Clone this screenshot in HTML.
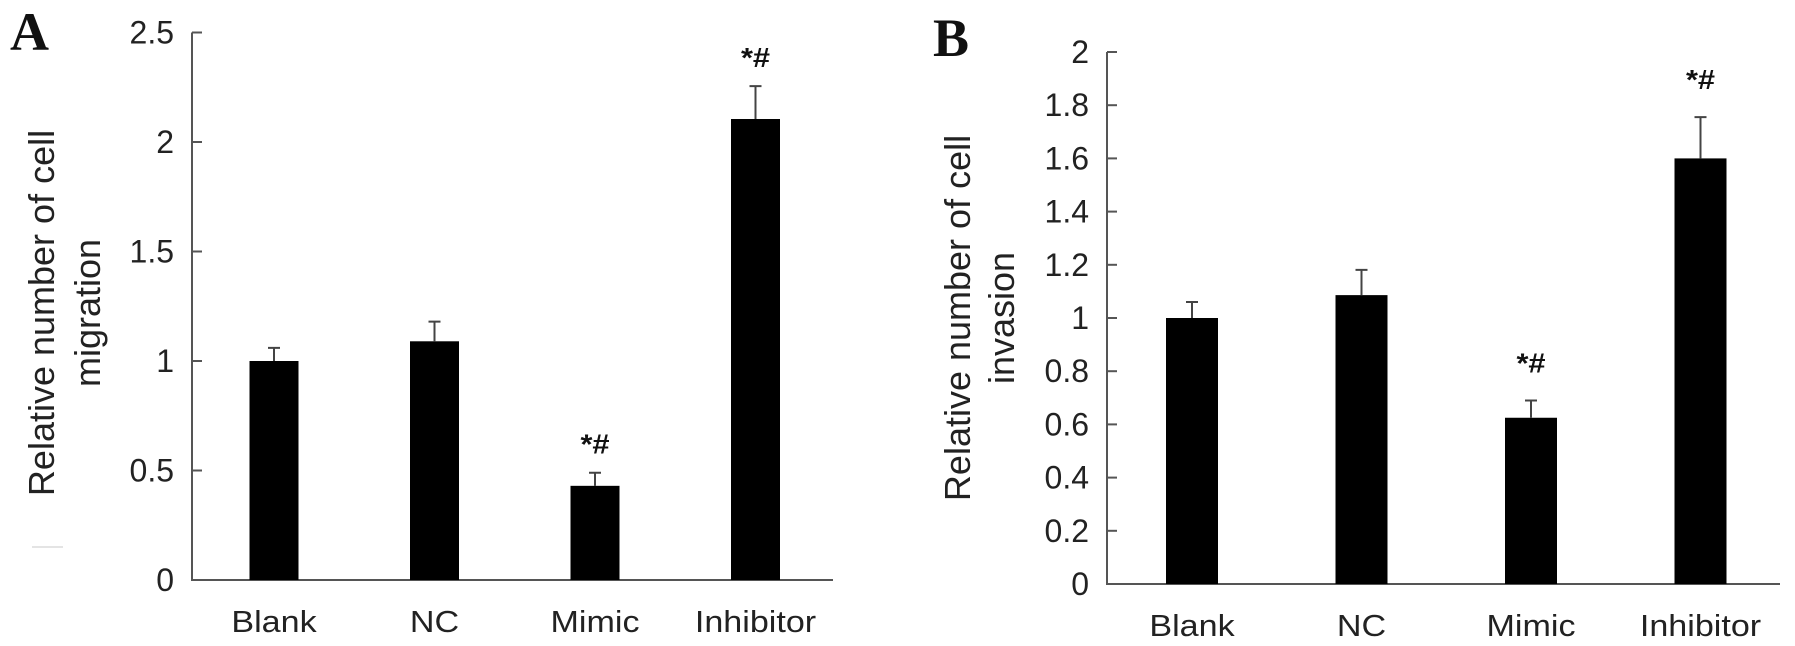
<!DOCTYPE html>
<html><head><meta charset="utf-8"><style>
html,body{margin:0;padding:0;background:#fff;}
svg{display:block;font-family:"Liberation Sans",Arial,sans-serif;}
</style></head><body>
<svg id="chart" width="1795" height="646" viewBox="0 0 1795 646"></svg>
<script>
const categories = ["Blank","NC","Mimic","Inhibitor"];
const migrationValues = [1.0, 1.09, 0.43, 2.105];
const migrationErrors = [0.06, 0.09, 0.06, 0.15];
const migrationTicks = ["0","0.5","1","1.5","2","2.5"];
const invasionValues = [1.0, 1.086, 0.625, 1.6];
const invasionErrors = [0.06, 0.095, 0.065, 0.155];
const invasionTicks = ["0","0.2","0.4","0.6","0.8","1","1.2","1.4","1.6","1.8","2"];
const migrationMarks = ["", "", "*#", "*#"];
const invasionMarks = ["", "", "*#", "*#"];

const NS = "http://www.w3.org/2000/svg";
const svg = document.getElementById("chart");
function mk(tag, attrs, parent, text){
  const e = document.createElementNS(NS, tag);
  for (const k in attrs) e.setAttribute(k, attrs[k]);
  if (text !== undefined) e.textContent = text;
  (parent || svg).appendChild(e);
  return e;
}

function panel(cfg){
  const g = mk("g", {});
  
  
  const y = v => cfg.y0 - (v / cfg.max) * (cfg.y0 - cfg.yTop);
  const x = i => cfg.c0 + i * cfg.step;
  const L = mk("text", {x: cfg.letterX, y: cfg.letterY, "font-family": "Liberation Serif, serif", "font-weight": "bold", "font-size": 54, fill: "#111"}, g, cfg.letter);
  
  
  const t1 = mk("text", {transform: `translate(${cfg.titleX1},${cfg.titleY}) rotate(-90)`, "text-anchor": "middle", "font-size": 36, fill: "#222"}, g, "Relative number of cell");
  
  
  const t2 = mk("text", {transform: `translate(${cfg.titleX2},${cfg.titleY}) rotate(-90)`, "text-anchor": "middle", "font-size": 36, fill: "#222"}, g, cfg.title2);
  
  
  const ya = mk("line", {x1: cfg.ax, x2: cfg.ax, y1: cfg.yTop, y2: cfg.y0 + 1, stroke: "#555", "stroke-width": 2}, g);
  
  
  const xa = mk("line", {x1: cfg.ax, x2: cfg.axEnd, y1: cfg.y0, y2: cfg.y0, stroke: "#555", "stroke-width": 2}, g);
  
  
  cfg.ticks.forEach(lab => {
    const v = parseFloat(lab);
    const yy = y(v);
    if (v > 0) {
      const tk = mk("line", {x1: cfg.ax, x2: cfg.ax + 10, y1: yy, y2: yy, stroke: "#555", "stroke-width": 2}, g);
      
      
    }
    const tl = mk("text", {x: cfg.ax - 18, y: yy + 11, "text-anchor": "end", "font-size": 32, fill: "#222"}, g, lab);
    
    
  });
  categories.forEach((c, i) => {
    const cx = x(i);
    const top = y(cfg.values[i]);
    const b = mk("rect", {x: cx - cfg.bw / 2, y: top, width: cfg.bw, height: cfg.y0 - top, fill: "#000"}, g);
    
    
    const et = y(cfg.values[i] + cfg.errors[i]);
    const eb = mk("path", {d: `M${cx},${top} V${et} M${cx - 6},${et} H${cx + 6}`, stroke: "#444", "stroke-width": 2, fill: "none"}, g);
    
    
    const xl = mk("text", {transform: `translate(${cx},${cfg.y0 + 52}) scale(1.1,1)`, "text-anchor": "middle", "font-size": 31, fill: "#222"}, g, c);
    
    
    if (cfg.marks[i]) {
      const m = mk("text", {transform: `translate(${cx},${et - cfg.markGap}) scale(1.1,1)`, "text-anchor": "middle", "font-size": 28, "font-weight": "bold", fill: "#111"}, g, cfg.marks[i]);
      
      
    }
  });
}

panel({name: "panel-a-migration", letter: "A", letterX: 10, letterY: 50, title2: "migration",
  titleX1: 54, titleX2: 100, titleY: 313, ax: 192, axEnd: 833, yTop: 32.5, y0: 580, max: 2.5, markGap: 19,
  c0: 274, step: 160.5, bw: 49, values: migrationValues, errors: migrationErrors, ticks: migrationTicks, marks: migrationMarks});
panel({name: "panel-b-invasion", letter: "B", letterX: 933, letterY: 56, title2: "invasion",
  titleX1: 970, titleX2: 1014, titleY: 318, ax: 1107, axEnd: 1780, yTop: 52, y0: 584, max: 2, markGap: 28,
  c0: 1192, step: 169.5, bw: 52, values: invasionValues, errors: invasionErrors, ticks: invasionTicks, marks: invasionMarks});
const fl = mk("line", {x1: 32, x2: 63, y1: 547, y2: 547, stroke: "#e4e4e4", "stroke-width": 2});


</script>
</body></html>
